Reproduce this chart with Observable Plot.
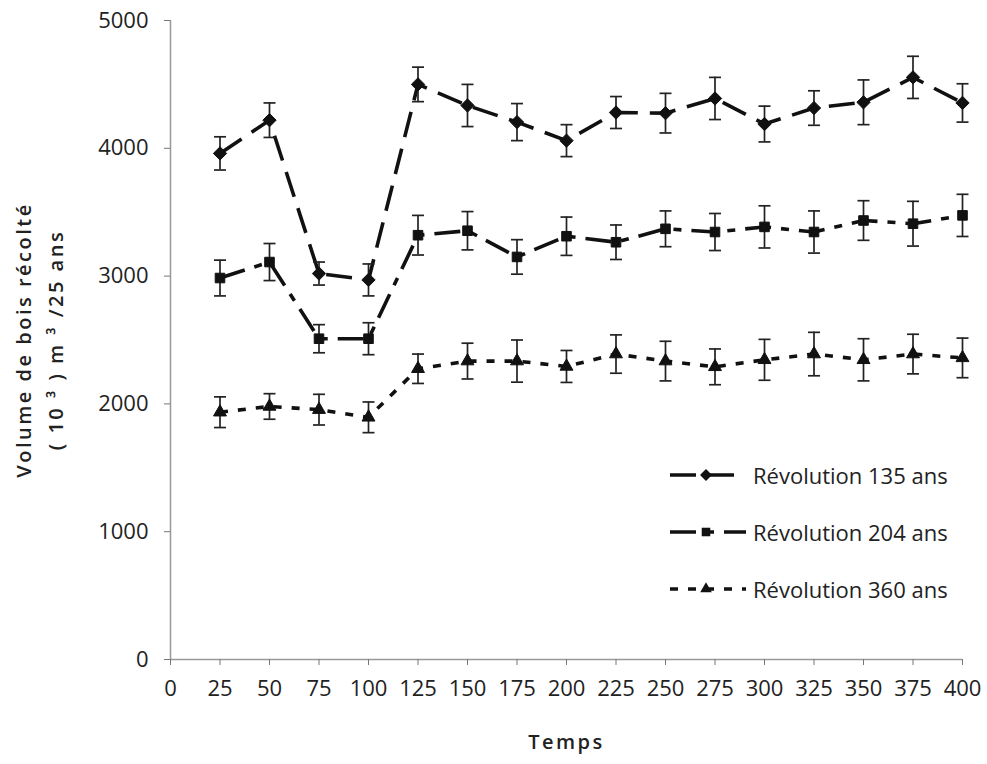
<!DOCTYPE html>
<html>
<head>
<meta charset="utf-8">
<script src="https://cdn.jsdelivr.net/npm/d3@7"></script>
<script src="https://cdn.jsdelivr.net/npm/@observablehq/plot@0.6"></script>
<style>
  body { margin: 0; background: #fff; }
  #wrap { position: relative; width: 987px; height: 764px; font-family: "Open Sans", sans-serif; }
  #legend { position: absolute; left: 668px; top: 446px; }
  .lrow { display: flex; align-items: center; height: 57px; }
  .lrow span { font-size: 22px; color: #222; margin-left: 5px; }
</style>
</head>
<body>
<div id="wrap"><div id="legend"></div></div>
<script>
// ---- data ----
const times = [25, 50, 75, 100, 125, 150, 175, 200, 225, 250, 275, 300, 325, 350, 375, 400];
const xTicks = [0, 25, 50, 75, 100, 125, 150, 175, 200, 225, 250, 275, 300, 325, 350, 375, 400];
const yTicks = [0, 1000, 2000, 3000, 4000, 5000];
const seriesNames = ["Révolution 135 ans", "Révolution 204 ans", "Révolution 360 ans"];

const rev135 = [3960, 4220, 3020, 2970, 4500, 4335, 4205, 4060, 4280, 4275, 4390, 4190, 4315, 4360, 4555, 4355];
const err135 = [130, 135, 90, 125, 135, 165, 145, 125, 125, 155, 165, 140, 135, 175, 165, 150];
const rev204 = [2985, 3110, 2510, 2510, 3320, 3355, 3150, 3312, 3265, 3370, 3345, 3385, 3345, 3435, 3410, 3475];
const err204 = [140, 145, 110, 125, 155, 150, 135, 150, 135, 140, 145, 165, 165, 155, 175, 165];
const rev360 = [1935, 1980, 1955, 1895, 2275, 2335, 2335, 2293, 2390, 2335, 2290, 2345, 2390, 2345, 2390, 2360];
const err360 = [120, 100, 120, 120, 115, 140, 165, 125, 150, 155, 140, 160, 170, 165, 155, 155];

// ---- styles per series ----
const styles = [
  { values: rev135, errors: err135, dash: "26,12", symbol: "diamond2", r: 6 },
  { values: rev204, errors: err204, dash: "26,10,8,10", symbol: "square", r: 5.4 },
  { values: rev360, errors: err360, dash: "8,10", symbol: "triangle", r: 4.8 }
];

const series = styles.map((s, k) => ({
  name: seriesNames[k], ...s,
  rows: times.map((t, i) => ({ t, v: s.values[i], e: s.errors[i] }))
}));
const allRows = series.flatMap(s => s.rows);

const cap = { draw(ctx) { ctx.moveTo(-6, 0); ctx.lineTo(6, 0); } };

const marks = [
  Plot.ruleX([0], { stroke: "#999", strokeWidth: 1.5 }),
  Plot.ruleY([0], { stroke: "#999", strokeWidth: 1.5 }),
  Plot.axisX({ ticks: xTicks, tickFormat: d => String(d), tickSize: 6, tickPadding: 15, label: null, stroke: "#777" }),
  Plot.axisY({ ticks: yTicks, tickFormat: d => String(d), tickSize: 6, tickPadding: 16, label: null, stroke: "#777" })
];
for (const s of series) {
  marks.push(Plot.line(s.rows, { x: "t", y: "v", stroke: "#111", strokeWidth: 3.6, strokeDasharray: s.dash, strokeLinecap: "butt" }));
}
marks.push(Plot.ruleX(allRows, { x: "t", y1: d => d.v - d.e, y2: d => d.v + d.e, stroke: "#222", strokeWidth: 1.7 }));
marks.push(Plot.dot(allRows, { x: "t", y: d => d.v + d.e, symbol: cap, r: 3, stroke: "#222", strokeWidth: 1.7, fill: "none" }));
marks.push(Plot.dot(allRows, { x: "t", y: d => d.v - d.e, symbol: cap, r: 3, stroke: "#222", strokeWidth: 1.7, fill: "none" }));
for (const s of series) {
  marks.push(Plot.dot(s.rows, { x: "t", y: "v", symbol: s.symbol, r: s.r, fill: "#111", stroke: "#111", strokeWidth: 1 }));
}
// axis titles
marks.push(Plot.text(["Volume de bois récolté\n( 10 ³ ) m ³ /25 ans"], {
  text: d => d, frameAnchor: "left", textAnchor: "middle", rotate: -90, dx: -134, lineHeight: 1.6,
  fontSize: 20, fontWeight: 600, fill: "#222"
}));
marks.push(Plot.text(["Temps"], {
  text: d => d, frameAnchor: "bottom", dy: 89, fontSize: 20, fontWeight: 600, fill: "#222"
}));

const chart = Plot.plot({
  width: 987, height: 764,
  marginLeft: 170, marginRight: 25, marginTop: 20, marginBottom: 105,
  style: { fontFamily: "'Open Sans', sans-serif", fontSize: "22px", color: "#222", background: "#fff" },
  x: { domain: [0, 400] },
  y: { domain: [0, 5000] },
  marks
});
d3.select(chart).selectAll("text").filter(function () {
  return this.textContent === "Temps" || this.textContent.startsWith("Volume") || this.textContent.startsWith("(");
}).style("letter-spacing", "2.5px");
document.getElementById("wrap").prepend(chart);

// ---- legend ----
const legend = d3.select("#legend");
for (const s of series) {
  const row = legend.append("div").attr("class", "lrow");
  const svg = row.append("svg").attr("width", 80).attr("height", 20);
  svg.append("line").attr("x1", 2).attr("x2", 78).attr("y1", 10).attr("y2", 10)
    .attr("stroke", "#111").attr("stroke-width", 3.6).attr("stroke-dasharray", s.dash);
  const sym = { diamond2: d3.symbolDiamond2, square: d3.symbolSquare, triangle: d3.symbolTriangle }[s.symbol];
  svg.append("path").attr("transform", "translate(38,10)")
    .attr("d", d3.symbol(sym, Math.PI * s.r * s.r * 0.8)()).attr("fill", "#111");
  row.append("span").text(s.name);
}
</script>
</body>
</html>
